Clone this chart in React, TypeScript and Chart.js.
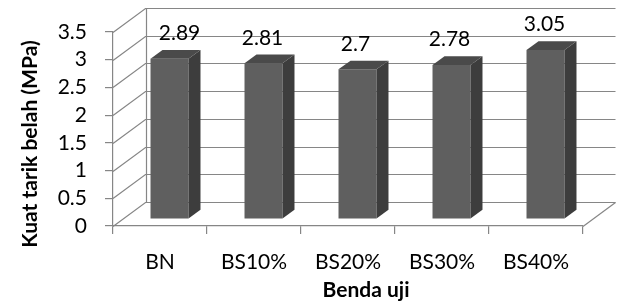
import React, { useEffect, useRef } from "react";
import { Chart, registerables } from "chart.js";

Chart.register(...registerables);

const categories = ["BN", "BS10%", "BS20%", "BS30%", "BS40%"];
const values = [2.89, 2.81, 2.7, 2.78, 3.05];
const yTitle = "Kuat tarik belah (MPa)";
const xTitle = "Benda uji";

const FONT = "Lato";
const GRID = "#868686";
const FRONT = "#5f5f5f";
const SIDE = "#3d3d3d";
const TOP = "#4a4a4a";

// 3D geometry (pixels)
const WALL_DX = 32.5;
const WALL_DY = -24;
const BAR_SHIFT_X = 9.5;
const BAR_SHIFT_Y = -7;
const BAR_DX = 12;
const BAR_DY = -8.7;
const LABEL_NUDGE = [10, -1, -2, -2, -1];

const threeD = {
  id: "threeD",
  beforeDatasetsDraw(chart: any) {
    const ctx = chart.ctx;
    const x = chart.scales.x;
    const y = chart.scales.y;
    const left = x.left;
    const right = x.right;
    ctx.save();
    ctx.strokeStyle = GRID;
    ctx.lineWidth = 1.2;
    y.ticks.forEach((t: any) => {
      const py = Math.round(y.getPixelForValue(t.value)) + 0.5;
      ctx.beginPath();
      ctx.moveTo(left, py);
      ctx.lineTo(left + WALL_DX, py + WALL_DY);
      ctx.lineTo(right + WALL_DX, py + WALL_DY);
      ctx.stroke();
    });
    const top = Math.round(y.getPixelForValue(y.max)) + 0.5;
    const bot = Math.round(y.getPixelForValue(0)) + 0.5;
    ctx.beginPath();
    ctx.moveTo(Math.round(left + WALL_DX) + 0.5, top + WALL_DY);
    ctx.lineTo(Math.round(left + WALL_DX) + 0.5, bot + WALL_DY);
    ctx.stroke();
    ctx.beginPath();
    ctx.moveTo(right, bot);
    ctx.lineTo(right + WALL_DX, bot + WALL_DY);
    ctx.stroke();
    ctx.restore();

    ctx.save();
    ctx.translate(BAR_SHIFT_X, BAR_SHIFT_Y);
  },
  afterDatasetsDraw(chart: any) {
    const ctx = chart.ctx;
    const meta = chart.getDatasetMeta(0);
    meta.data.forEach((bar: any) => {
      const p = bar.getProps(["x", "y", "base", "width"], true);
      const xl = p.x - p.width / 2;
      const xr = p.x + p.width / 2;
      ctx.fillStyle = SIDE;
      ctx.beginPath();
      ctx.moveTo(xr, p.y);
      ctx.lineTo(xr + BAR_DX, p.y + BAR_DY);
      ctx.lineTo(xr + BAR_DX, p.base + BAR_DY);
      ctx.lineTo(xr, p.base);
      ctx.closePath();
      ctx.fill();
      ctx.fillStyle = TOP;
      ctx.beginPath();
      ctx.moveTo(xl, p.y);
      ctx.lineTo(xl + BAR_DX, p.y + BAR_DY);
      ctx.lineTo(xr + BAR_DX, p.y + BAR_DY);
      ctx.lineTo(xr, p.y);
      ctx.closePath();
      ctx.fill();
    });
    ctx.restore();

    ctx.save();
    ctx.fillStyle = "#000";
    ctx.font = `21px ${FONT}`;
    ctx.textAlign = "center";
    ctx.textBaseline = "alphabetic";
    meta.data.forEach((bar: any, i: number) => {
      const p = bar.getProps(["x", "y"], true);
      ctx.fillText(
        String(values[i]),
        p.x + BAR_SHIFT_X + LABEL_NUDGE[i],
        p.y + BAR_SHIFT_Y - 18.5
      );
    });
    ctx.restore();
  },
  afterDraw(chart: any) {
    const ctx = chart.ctx;
    ctx.save();
    ctx.fillStyle = "#000";
    ctx.font = `bold 21px ${FONT}`;
    ctx.textAlign = "center";
    ctx.textBaseline = "alphabetic";
    ctx.fillText(xTitle, 366, 297);
    ctx.translate(37, 144);
    ctx.rotate(-Math.PI / 2);
    ctx.fillText(yTitle, 0, 0);
    ctx.restore();
  },
};

const whiteBg = {
  id: "whiteBg",
  beforeDraw(chart: any) {
    const ctx = chart.ctx;
    ctx.save();
    ctx.fillStyle = "#fff";
    ctx.fillRect(0, 0, chart.width, chart.height);
    ctx.restore();
  },
};

export default function App() {
  const ref = useRef<HTMLCanvasElement>(null);
  useEffect(() => {
    if (!ref.current) return;
    const chart = new Chart(ref.current, {
      type: "bar",
      data: {
        labels: categories,
        datasets: [
          {
            data: values,
            backgroundColor: FRONT,
            borderWidth: 0,
            barPercentage: 0.404,
            categoryPercentage: 1,
            clip: false as any,
          },
        ],
      },
      options: {
        responsive: false,
        animation: false,
        devicePixelRatio: 1,
        layout: { padding: { left: 0, right: 34, top: 32, bottom: 0 } },
        plugins: {
          legend: { display: false },
          tooltip: { enabled: false },
        },
        scales: {
          x: {
            grid: {
              offset: true,
              drawOnChartArea: false,
              drawTicks: true,
              tickLength: 8,
              color: GRID,
              lineWidth: 1.2,
            },
            border: { color: GRID, width: 1.2 },
            ticks: {
              font: { family: FONT, size: 21 },
              color: "#000",
              padding: 16,
              autoSkip: false,
              maxRotation: 0,
            },
            afterFit: (s: any) => {
              s.height = 80;
            },
          },
          y: {
            min: 0,
            max: 3.5,
            ticks: {
              stepSize: 0.5,
              font: { family: FONT, size: 21 },
              color: "#000",
              padding: 18,
              autoSkip: false,
              callback: (v: any) => String(v),
            },
            grid: {
              drawOnChartArea: false,
              drawTicks: true,
              tickLength: 8,
              color: GRID,
              lineWidth: 1.2,
            },
            border: { color: GRID, width: 1.2 },
            afterFit: (s: any) => {
              s.width = 113;
            },
          },
        },
      },
      plugins: [whiteBg, threeD],
    });
    return () => chart.destroy();
  }, []);
  return (
    <div style={{ position: "absolute", left: 0, top: 0, width: 617, height: 306 }}>
      <canvas ref={ref} width={617} height={306} />
    </div>
  );
}
